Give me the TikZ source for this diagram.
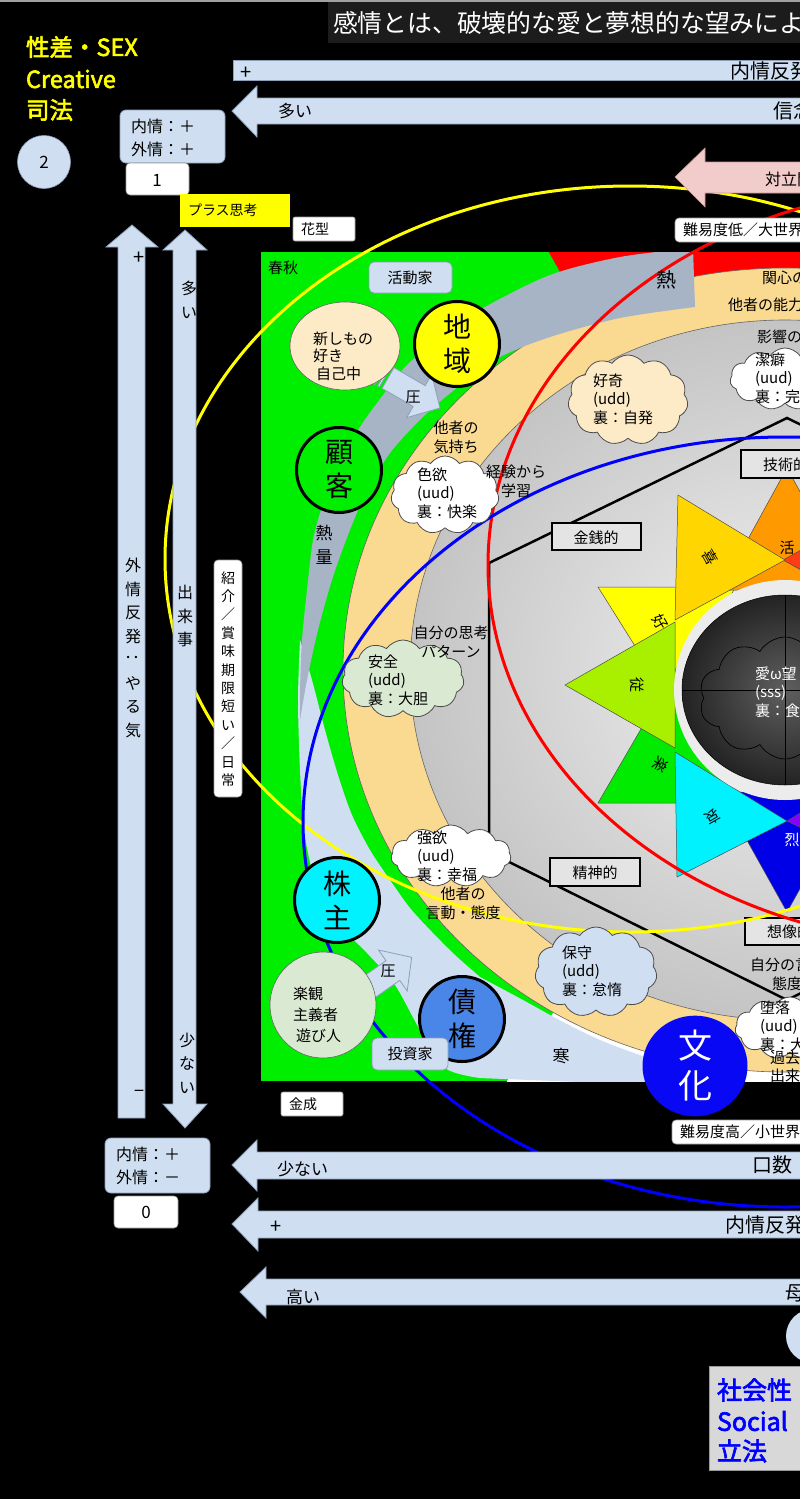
\documentclass[tikz,border=0pt]{standalone}
\usepackage{fontspec}
\usepackage{graphicx}
\setmainfont{Noto Sans CJK JP}
\newfontfamily\bjp{Noto Sans CJK JP}[FakeBold=2.5]
\usetikzlibrary{shapes.symbols,shapes.geometric,calc}
\newcommand\myfs[1]{\fontsize{#1}{#1}\selectfont}
\newcommand\myfl[2]{\fontsize{#1}{#2}\selectfont}
\definecolor{lb}{RGB}{207,223,241}
\definecolor{lbedge}{RGB}{140,160,185}
\definecolor{bandgray}{RGB}{166,180,198}
\definecolor{tanc}{RGB}{250,217,145}
\definecolor{grn}{RGB}{0,238,0}
\definecolor{cream}{RGB}{253,235,200}
\definecolor{lgreen}{RGB}{217,233,210}
\definecolor{pinkc}{RGB}{242,203,203}
\definecolor{pinkedge}{RGB}{200,150,150}
\definecolor{sqgray}{RGB}{216,216,216}
\definecolor{cyanc}{RGB}{0,242,255}
\definecolor{saiken}{RGB}{74,134,232}
\definecolor{bunka}{RGB}{8,8,245}
\definecolor{kigold}{RGB}{255,214,0}
\definecolor{katsu}{RGB}{255,153,0}
\definecolor{juc}{RGB}{168,240,0}
\definecolor{rakuc}{RGB}{0,235,0}
\definecolor{purp}{RGB}{140,0,255}
\definecolor{ikari}{RGB}{255,60,20}
\definecolor{retsu}{RGB}{0,0,230}
\definecolor{titlebg}{RGB}{28,28,28}
\definecolor{lightc}{RGB}{236,236,236}
\definecolor{boxgray}{RGB}{228,228,228}
\definecolor{ylw}{RGB}{255,255,0}
\definecolor{socblue}{RGB}{0,0,255}
\definecolor{topline}{RGB}{160,160,160}
\definecolor{diskin}{RGB}{242,242,242}
\definecolor{diskout}{RGB}{196,196,196}
\definecolor{darkin}{RGB}{95,95,95}
\definecolor{darkout}{RGB}{35,35,35}
\tikzset{
  lbfill/.style={fill=lb, draw=lbedge, line width=0.8pt},
  lbbox/.style={fill=lb, draw=lbedge, line width=0.8pt, rounded corners=6pt},
  wbox/.style={fill=white, draw=black!40, line width=0.6pt, rounded corners=4pt},
  t15/.style={font=\myfl{15}{18.5}, align=left},
  bigc/.style={circle, draw=black, line width=3pt, minimum size=85pt, font=\myfl{28}{34}, align=center},
  cld/.style={cloud, cloud puffs=11, cloud puff arc=110, aspect=1.35, draw=black!70, line width=0.8pt, inner sep=0pt},
  hexbox/.style={draw=black, line width=2.2pt, fill=boxgray},
  tri/.style={draw=black!70, line width=0.5pt},
  vtext/.style={align=center, font=\myfl{16}{23.5}},
  ringline/.style={line width=3pt},
  yl/.style={font=\bjp\myfs{23.5}, text=ylw, anchor=west},
  bl/.style={font=\bjp\myfs{25}, text=socblue, anchor=west},
}
\begin{document}
\begin{tikzpicture}[x=1pt,y=-1pt,every node/.style={inner sep=0pt,outer sep=0pt}]
\useasboundingbox (0,0) rectangle (800,1499);
\clip (0,0) rectangle (800,1499);
\fill[black] (0,0) rectangle (800,1499);
\fill[topline] (0,0) rectangle (800,2);
\fill[titlebg] (328,2) rectangle (800,43);
\node[anchor=west,font=\myfs{24.8},text=white] (title) at (333,23) {感情とは、破壊的な愛と夢想的な望みによ};

% ---------------- rings ----------------
\begin{scope}
\clip (261,252) rectangle (800,1081);
\fill[grn] (261,252) rectangle (800,1081);
\fill[red] (785,670) -- (429,40) -- (900,40) -- (900,600) -- cycle;
\fill[white] (785,670) -- (305,1380) -- (900,1380) -- (900,700) -- cycle;
% cold band
\path[fill=lb] plot[smooth] coordinates {(300,640) (298,700) (300,770) (304,830) (315,880) (337,922) (367,953) (395,985) (420,1030) (445,1068) (480,1078)}
  -- (780,1090) -- (780,1085)
  -- plot[smooth] coordinates {(760,1085) (700,1072) (643,1056) (600,1040) (563,1022) (523,1000) (480,977)}
  -- plot[smooth] coordinates {(480,977) (455,955) (432,932) (410,908) (390,880) (370,850) (352,815) (338,775) (325,730) (312,680) (300,640)} -- cycle;
\filldraw[fill=tanc, draw=black!60, line width=0.6pt] (785,670) ellipse [x radius=442, y radius=402];
\shade[inner color=diskin, outer color=diskout] (785,670) ellipse [x radius=375, y radius=350];
\draw[black!60, line width=0.6pt] (785,670) ellipse [x radius=375, y radius=350];
% hot band
\path[fill=bandgray] plot[smooth] coordinates {(300,720) (300,690) (302,640) (307,590) (313,540) (322,507) (336,470) (360,427) (383,395) (407,365) (445,333) (483,308) (550,275) (620,257) (693,248)}
  -- (695,307)
  -- plot[smooth] coordinates {(695,307) (620,318) (550,337) (500,357) (463,383) (425,415) (390,453) (365,495) (348,535) (332,580) (318,630) (307,680) (300,720)} -- cycle;
\end{scope}

% ---------------- star ----------------
\path[tri, fill=ylw] (598,587) -- (735,587) -- (677,713) -- cycle;
\path[tri, fill=rakuc] (598,803) -- (735,803) -- (677,667) -- cycle;
\path[tri, fill=katsu] (787,468) -- (720,590) -- (854,590) -- cycle;
\path[tri, fill=retsu] (787,912) -- (720,792) -- (854,792) -- cycle;
\path[tri, fill=ikari] (783,560) -- (900,495) -- (900,625) -- cycle;
\path[tri, fill=purp] (787,821) -- (900,752) -- (900,877) -- cycle;
\path[tri, fill=kigold] (678,495) -- (675,620) -- (785,560) -- cycle;
\path[tri, fill=juc] (565,685) -- (675,622) -- (675,748) -- cycle;
\path[tri, fill=cyanc] (675,752) -- (677,877) -- (787,821) -- cycle;
\node[font=\myfs{15},rotate=-60] (lki) at (710,557) {喜};
\node[font=\myfs{15}] (lka) at (787,548) {活};
\node[font=\myfs{15},rotate=-60] (lko) at (660,622) {好};
\node[font=\myfs{15},rotate=-90] (lju) at (637,685) {従};
\node[font=\myfs{15},rotate=-120] (lra) at (661,765) {楽};
\node[font=\myfs{15},rotate=-150] (lai) at (713,817) {哀};
\node[font=\myfs{15},text=white] (lre) at (792,840) {烈};
\fill[lightc] (785,690) ellipse [x radius=111, y radius=110];
\shade[inner color=darkin, outer color=darkout] (785,690) ellipse [x radius=103, y radius=95];
\draw[black, line width=0.5pt] (785,690) ellipse [x radius=103, y radius=95];
\node[cloud, cloud puffs=10, cloud puff arc=120, aspect=1.4, draw=black, line width=0.7pt, minimum width=172pt, minimum height=122pt] (dcloud) at (785,698) {};
\draw[black, line width=0.6pt] (682,690) -- (888,690);
\draw[black, line width=0.6pt] (785,595) -- (785,785);
\node[anchor=west, t15, text=white] (ai) at (755,692) {愛ω望\\(sss)\\裏：食欲};

% ---------------- hexagon ----------------
\draw[black, line width=2.5pt] (1085,563) -- (787,418) -- (489,563) -- (489,852) -- (787,1000) -- (1085,852);
\node[hexbox, anchor=north west, minimum width=80pt, minimum height=28pt] (hb1) at (741,450) {};
\node[anchor=west, t15] (hb1t) at (763,465) {技術的};
\node[hexbox, anchor=north west, minimum width=89pt, minimum height=27pt] (hb2) at (552,523) {};
\node[t15] (hb2t) at (596,538) {金銭的};
\node[hexbox, anchor=north west, minimum width=90pt, minimum height=28pt] (hb3) at (550,858) {};
\node[t15] (hb3t) at (595,873) {精神的};
\node[hexbox, anchor=north west, minimum width=80pt, minimum height=27pt] (hb4) at (745,918) {};
\node[anchor=west, t15] (hb4t) at (767,932) {想像的};

% ---------------- colored rings ----------------
\draw[ylw, ringline] (630,559) ellipse [x radius=465, y radius=373];
\draw[red, ringline] (963,565) ellipse [x radius=475, y radius=380];
\draw[socblue, ringline] (785,822) ellipse [x radius=482, y radius=385];

% ---------------- clouds ----------------
\node[cld, fill=cream, minimum width=120pt, minimum height=90pt] (c1) at (628,400) {};
\node[anchor=west, t15] (c1t) at (593,399) {好奇\\(udd)\\裏：自発};
\node[cld, fill=white, minimum width=110pt, minimum height=62pt] (c2) at (785,379) {};
\node[anchor=west, t15] (c2t) at (755,378) {潔癖\\(uud)\\裏：完璧};
\node[cld, fill=white, minimum width=108pt, minimum height=78pt] (c3) at (445,495) {};
\node[anchor=west, t15] (c3t) at (417,493) {色欲\\(uud)\\裏：快楽};
\node[cld, fill=lgreen, minimum width=122pt, minimum height=78pt] (c4) at (403,679) {};
\node[anchor=west, t15] (c4t) at (368,680) {安全\\(udd)\\裏：大胆};
\node[cld, fill=white, minimum width=120pt, minimum height=62pt] (c5) at (451,856) {};
\node[anchor=west, t15] (c5t) at (417,856) {強欲\\(uud)\\裏：幸福};
\node[cld, fill=lb, minimum width=122pt, minimum height=90pt] (c6) at (596,972) {};
\node[anchor=west, t15] (c6t) at (562,971) {保守\\(udd)\\裏：怠惰};
\node[cld, fill=white, minimum width=110pt, minimum height=62pt] (c7) at (790,1028) {};
\node[anchor=west, t15] (c7t) at (760,1026) {堕落\\(uud)\\裏：大};

% ---------------- ring texts ----------------
\node[anchor=west, font=\myfs{15}] (r1) at (762,278) {関心の};
\node[anchor=west, font=\myfs{15}] (r2) at (728,305) {他者の能力};
\node[anchor=west, font=\myfs{15}] (r3) at (757,337) {影響の};
\node[font=\myfl{15}{19}, align=center] (r4) at (456,437) {他者の\\気持ち};
\node[font=\myfl{15}{19}, align=center] (r5) at (516,481) {経験から\\学習};
\node[font=\myfl{15}{19}, align=center] (r6) at (451,642) {自分の思考\\パターン};
\node[font=\myfl{15}{19}, align=center] (r7) at (463,903) {他者の\\言動・態度};
\node[anchor=west, font=\myfs{15}] (r8) at (750,965) {自分の言};
\node[anchor=west, font=\myfs{15}] (r9) at (772,984) {態度};
\node[anchor=west, font=\myfs{15}] (r10) at (770,1058) {過去};
\node[anchor=west, font=\myfs{15}] (r11) at (770,1076) {出来};
\node[font=\myfs{20}] (netsu) at (666,280) {熱};
\node[align=center, font=\myfl{17}{24}] (netsuryo) at (324,545) {熱\\量};
\node[font=\myfs{17}] (kan) at (561,1056) {寒};
\node[anchor=west, font=\myfs{15}] (shunju) at (268,268) {春秋};

% ---------------- pressure arrows ----------------
\begin{scope}[shift={(388,378)}, rotate=-30]
\path[lbfill] (0,-12) -- (36,-12) -- (36,-25) -- (60,0) -- (36,25) -- (36,12) -- (0,12) -- cycle;
\path[lbfill] (-10,-12) rectangle (-8,12);
\path[lbfill] (-5,-12) rectangle (-3,12);
\end{scope}
\node[font=\myfs{15}] (atsu1) at (413,397) {圧};
\begin{scope}[shift={(365,990)}, rotate=35]
\path[lbfill] (0,-12) -- (34,-12) -- (34,-25) -- (57,0) -- (34,25) -- (34,12) -- (0,12) -- cycle;
\path[lbfill] (-10,-12) rectangle (-8,12);
\path[lbfill] (-5,-12) rectangle (-3,12);
\end{scope}
\node[font=\myfs{15}] (atsu2) at (388,971) {圧};

% ---------------- people nodes ----------------
\node[ellipse, draw=black!60, line width=0.6pt, fill=cream, minimum width=110pt, minimum height=88pt] (shin) at (345,346) {};
\node[anchor=west, font=\myfl{15}{17.5}, align=left] (shint) at (313,356) {新しもの\\好き\\\hspace{3pt}自己中};
\node[circle, draw=black!60, line width=0.6pt, fill=lgreen, minimum size=106pt] (rakk) at (323,1005) {};
\node[anchor=west, font=\myfl{15}{21}, align=left] (rakkt) at (293,1015) {楽観\\主義者\\\hspace{3pt}遊び人};
\node[bigc, fill=ylw] (chiiki) at (457,344) {地\\域};
\node[bigc, fill=grn] (kokyaku) at (339,470) {顧\\客};
\node[bigc, fill=cyanc] (kabunushi) at (337,900) {株\\主};
\node[bigc, fill=saiken] (saiken) at (462,1019) {債\\権};
\node[ellipse, fill=bunka, minimum width=105pt, minimum height=92pt, font=\myfl{34}{40}, text=white, align=center] (bunka) at (695,1066) {文\\化};
\node[lbbox, rounded corners=5pt, anchor=north west, minimum width=83pt, minimum height=31pt] (katsudo) at (369,262) {};
\node[font=\myfs{15}] (katsudot) at (410,278) {活動家};
\node[lbbox, rounded corners=5pt, anchor=north west, minimum width=76pt, minimum height=32pt] (toshi) at (372,1038) {};
\node[font=\myfs{15}] (toshit) at (410,1054) {投資家};

% ---------------- top-left labels ----------------
\node[yl] (ys1) at (26,47) {性差・SEX};
\node[yl] (ys2) at (26,79) {Creative};
\node[yl] (ys3) at (26,110) {司法};
\node[circle, fill=lb, draw=lbedge, line width=0.6pt, minimum size=53pt, font=\myfs{17}] (c2n) at (44,162) {2};
\node[lbbox, anchor=north west, minimum width=105pt, minimum height=53pt] (nb1) at (120,110) {};
\node[anchor=west, font=\myfl{16}{23}, align=left] (nb1t) at (131,138) {内情：＋\\外情：＋};
\node[wbox, anchor=north west, minimum width=63pt, minimum height=32pt] (one) at (126,163) {};
\node[font=\myfs{17}] (onet) at (157,180) {1};
\node[fill=ylw, anchor=north west, minimum width=110pt, minimum height=33pt] (plus) at (180,194) {};
\node[anchor=west, font=\myfs{14}] (plust) at (188,210) {プラス思考};
\node[wbox, rounded corners=2pt, anchor=north west, minimum width=62pt, minimum height=24pt] (hana) at (293,217) {};
\node[anchor=west, font=\myfs{14}] (hanat) at (301,229) {花型};

% ---------------- top bars ----------------
\path[lbfill] (233,60) rectangle (810,80);
\node[anchor=west, font=\myfs{20}] (bp1) at (240,73) {+};
\node[anchor=west, font=\myfs{20}] (bt1) at (730,71) {内情反発};
\path[lbfill] (232,111) -- (257,86) -- (257,98) -- (810,98) -- (810,124) -- (257,124) -- (257,137) -- cycle;
\node[anchor=west, font=\myfs{17}] (bt2a) at (278,111) {多い};
\node[anchor=west, font=\myfs{20}] (bt2b) at (773,111) {信念};
\path[fill=pinkc, draw=pinkedge, line width=0.6pt] (675,177) -- (705,148) -- (705,162) -- (810,162) -- (810,193) -- (705,193) -- (705,207) -- cycle;
\node[anchor=west, font=\myfs{16}] (pk) at (765,179) {対立関};
\node[wbox, anchor=north west, minimum width=140pt, minimum height=24pt] (nan1) at (675,218) {};
\node[anchor=west, font=\myfs{15}] (nan1t) at (683,230) {難易度低／大世界};

% ---------------- vertical arrows ----------------
\path[lbfill] (132,225) -- (158,247) -- (145,247) -- (145,1118) -- (118,1118) -- (118,247) -- (106,247) -- cycle;
\path[lbfill] (185,230) -- (207,250) -- (196,250) -- (196,1104) -- (207,1104) -- (185,1128) -- (163,1104) -- (173,1104) -- (173,250) -- (163,250) -- cycle;
\node[font=\myfs{20}] (vp) at (139,258) {+};
\node[font=\myfs{18}] (vm) at (139,1094) {−};
\node[vtext] (gaijo) at (133,648) {外\\情\\反\\発\\\rotatebox{90}{：}\\や\\る\\気};
\node[vtext] (dekigoto) at (185,616) {出\\来\\事};
\node[vtext] (ooi) at (189,300) {多\\い};
\node[vtext] (sukunai) at (187,1063) {少\\な\\い};
\node[wbox, anchor=north west, minimum width=28pt, minimum height=237pt] (shokai) at (214,560) {};
\node[align=center, font=\myfl{14}{18.4}] (shokait) at (228,679) {紹\\介\\／\\賞\\味\\期\\限\\短\\い\\／\\日\\常};

% ---------------- bottom ----------------
\node[wbox, rounded corners=2pt, anchor=north west, minimum width=62pt, minimum height=24pt] (kinsei) at (281,1092) {};
\node[anchor=west, font=\myfs{14}] (kinseit) at (289,1104) {金成};
\node[wbox, anchor=north west, minimum width=140pt, minimum height=24pt] (nan2) at (672,1120) {};
\node[anchor=west, font=\myfs{15}] (nan2t) at (680,1132) {難易度高／小世界};
\node[lbbox, anchor=north west, minimum width=105pt, minimum height=55pt] (nb2) at (105,1138) {};
\node[anchor=west, font=\myfl{16}{23}, align=left] (nb2t) at (116,1166) {内情：＋\\外情：－};
\node[wbox, anchor=north west, minimum width=64pt, minimum height=32pt] (zero) at (114,1196) {};
\node[font=\myfs{17}] (zerot) at (146,1212) {0};
\path[lbfill] (232,1165) -- (257,1140) -- (257,1152) -- (810,1152) -- (810,1179) -- (257,1179) -- (257,1191) -- cycle;
\node[anchor=west, font=\myfs{17}] (bb1a) at (277,1169) {少ない};
\node[anchor=west, font=\myfs{20}] (bb1b) at (752,1165) {口数（};
\path[lbfill] (232,1224) -- (258,1198) -- (258,1211) -- (810,1211) -- (810,1238) -- (258,1238) -- (258,1251) -- cycle;
\node[anchor=west, font=\myfs{20}] (bb2a) at (270,1227) {+};
\node[anchor=west, font=\myfs{20}] (bb2b) at (725,1225) {内情反発};
\path[lbfill] (240,1292) -- (266,1267) -- (266,1279) -- (810,1279) -- (810,1305) -- (266,1305) -- (266,1318) -- cycle;
\node[anchor=west, font=\myfs{17}] (bb3a) at (286,1297) {高い};
\node[anchor=west, font=\myfs{20}] (bb3b) at (785,1293) {母};
\node[circle, fill=lb, minimum size=54pt] (c0n) at (813,1336) {};
\node[fill=sqgray, draw=black!40, anchor=north west, minimum width=100pt, minimum height=104pt] (soc) at (709,1366) {};
\node[bl] (so1) at (717,1390) {社会性・};
\node[bl] (so2) at (717,1421) {Social};
\node[bl] (so3) at (717,1451) {立法};
\end{tikzpicture}
\end{document}
